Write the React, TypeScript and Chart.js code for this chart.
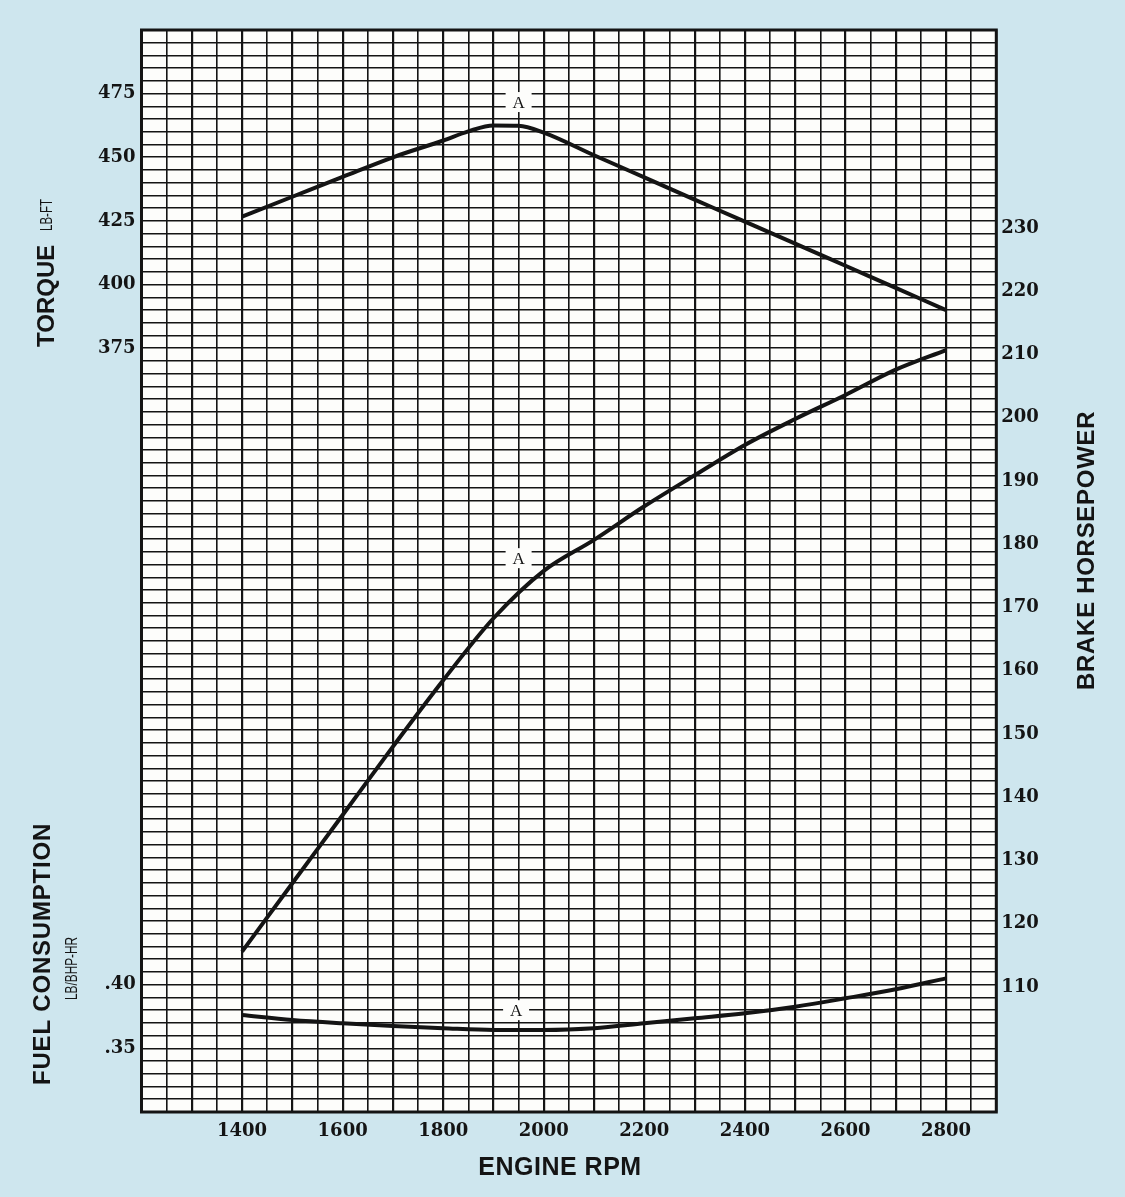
import React, { useEffect, useRef } from "react";
import { Chart, registerables } from "chart.js";

Chart.register(...registerables);

// ---------- data ----------
const rpmTickLabels = [1400, 1600, 1800, 2000, 2200, 2400, 2600, 2800];
const torqueTickLabels = [375, 400, 425, 450, 475];
const hpTickLabels = [110, 120, 130, 140, 150, 160, 170, 180, 190, 200, 210, 220, 230];
const fuelTickLabels = [0.35, 0.4];

const torqueRpm = [1400, 1500, 1600, 1700, 1800, 1850, 1900, 1950, 2000, 2100, 2200, 2300, 2400, 2500, 2600, 2700, 2800];
const torqueValues = [426.7, 434.5, 442.3, 450.0, 456.6, 460.2, 462.5, 462.4, 459.7, 450.8, 442.1, 433.4, 424.7, 416.1, 407.4, 398.7, 390.0];

const hpRpm = [1400, 1500, 1600, 1700, 1800, 1900, 2000, 2100, 2200, 2300, 2400, 2500, 2600, 2700, 2800];
const hpValues = [115.6, 126.4, 137.2, 148.0, 158.5, 168.3, 175.8, 180.7, 186.0, 190.9, 195.7, 199.8, 203.6, 207.6, 210.7];

const fuelRpm = [1400, 1500, 1600, 1700, 1800, 1900, 2000, 2100, 2200, 2300, 2400, 2500, 2600, 2700, 2800];
const fuelValues = [0.3762, 0.3723, 0.3697, 0.3676, 0.3658, 0.3644, 0.3644, 0.3658, 0.3697, 0.3736, 0.3775, 0.3827, 0.3893, 0.3964, 0.405];

const markerRpm = [1950, 1950, 1945];
const markerAxis = ["yT", "yH", "yF"];
const markerValues = [471.7, 177.8, 0.38];
const markerLabel = "A";

// axis ranges (grid paper: 85 minor rows, 34 minor columns)
const RPM_MIN = 1200, RPM_MAX = 2900, RPM_STEP = 50;
const TORQUE_MIN = 75, TORQUE_MAX = 500, TORQUE_STEP = 5;
const HP_MIN = 90.24, HP_MAX = 261.3;
const FUEL_MIN = 0.3, FUEL_MAX = 1.15;

const INK = "#141414";
const TICK_FONT = { family: "'DejaVu Serif', serif", size: 18, weight: "bold" as const };

function stepTicks(min: number, max: number, step: number) {
  const out: { value: number }[] = [];
  const n = Math.round((max - min) / step);
  for (let i = 0; i <= n; i++) out.push({ value: min + i * step });
  return out;
}

function drawRotated(ctx: CanvasRenderingContext2D, text: string, x: number, y: number, font: string, spacing: string, scaleX = 1) {
  ctx.save();
  ctx.translate(x, y);
  ctx.rotate(-Math.PI / 2);
  ctx.scale(scaleX, 1);
  ctx.font = font;
  (ctx as any).letterSpacing = spacing;
  ctx.fillStyle = INK;
  ctx.textAlign = "left";
  ctx.textBaseline = "alphabetic";
  ctx.fillText(text, 0, 0);
  ctx.restore();
}

const paperPlugin = {
  id: "paper",
  beforeDraw(chart: any) {
    const { ctx, chartArea: a } = chart;
    ctx.save();
    ctx.fillStyle = "#fdfdfb";
    ctx.fillRect(a.left, a.top, a.right - a.left, a.bottom - a.top);
    ctx.restore();
  },
  afterDraw(chart: any) {
    const { ctx, chartArea: a } = chart;
    ctx.save();
    // plot border
    ctx.strokeStyle = INK;
    ctx.lineWidth = 3;
    ctx.strokeRect(a.left, a.top, a.right - a.left, a.bottom - a.top);

    // "A" markers
    const xs = chart.scales.x;
    for (let i = 0; i < markerRpm.length; i++) {
      const px = xs.getPixelForValue(markerRpm[i]);
      const py = chart.scales[markerAxis[i]].getPixelForValue(markerValues[i]);
      ctx.fillStyle = "#fdfdfb";
      ctx.fillRect(px - 13, py - 10, 26, 20);
      ctx.fillStyle = INK;
      ctx.font = "17px 'Liberation Serif', serif";
      ctx.textAlign = "center";
      ctx.textBaseline = "middle";
      ctx.fillText(markerLabel, px, py + 1);
    }
    ctx.restore();

    // axis titles
    drawRotated(ctx, "TORQUE", 54, 347, "bold 24px 'Liberation Sans', sans-serif", "0px");
    drawRotated(ctx, "LB-FT", 52, 231, "16px 'Liberation Sans', sans-serif", "0px", 0.72);
    drawRotated(ctx, "FUEL CONSUMPTION", 50, 1085, "bold 24px 'Liberation Sans', sans-serif", "0.8px");
    drawRotated(ctx, "LB/BHP-HR", 77, 1000, "16px 'Liberation Sans', sans-serif", "0px", 0.74);
    drawRotated(ctx, "BRAKE HORSEPOWER", 1094, 690, "bold 24px 'Liberation Sans', sans-serif", "0.7px");

    ctx.save();
    ctx.font = "bold 25px 'Liberation Sans', sans-serif";
    (ctx as any).letterSpacing = "0.5px";
    ctx.fillStyle = INK;
    ctx.textAlign = "center";
    ctx.textBaseline = "alphabetic";
    ctx.fillText("ENGINE RPM", 560, 1175);
    ctx.restore();
  },
};

export default function App() {
  const ref = useRef<HTMLCanvasElement>(null);

  useEffect(() => {
    const canvas = ref.current;
    if (!canvas) return;
    const lineStyle = {
      borderColor: INK,
      borderWidth: 4,
      pointRadius: 0,
      fill: false,
      cubicInterpolationMode: "monotone" as const,
      borderCapStyle: "butt" as const,
    };
    const chart = new Chart(canvas, {
      type: "line",
      data: {
        datasets: [
          { ...lineStyle, label: "Torque", yAxisID: "yT", data: torqueRpm.map((r, i) => ({ x: r, y: torqueValues[i] })) },
          { ...lineStyle, label: "Brake horsepower", yAxisID: "yH", data: hpRpm.map((r, i) => ({ x: r, y: hpValues[i] })) },
          { ...lineStyle, label: "Fuel consumption", yAxisID: "yF", data: fuelRpm.map((r, i) => ({ x: r, y: fuelValues[i] })) },
        ],
      },
      options: {
        responsive: false,
        animation: false,
        events: [],
        layout: { padding: { top: 30, left: 0, right: 0, bottom: 0 } },
        plugins: { legend: { display: false }, tooltip: { enabled: false } },
        scales: {
          x: {
            type: "linear",
            min: RPM_MIN,
            max: RPM_MAX,
            afterBuildTicks: (s: any) => { s.ticks = stepTicks(RPM_MIN, RPM_MAX, RPM_STEP); },
            afterFit: (s: any) => { s.height = 85; },
            ticks: {
              autoSkip: false,
              maxRotation: 0,
              padding: 9,
              color: INK,
              font: TICK_FONT,
              callback: (v: any) => (rpmTickLabels.includes(Number(v)) ? String(v) : ""),
            },
            grid: {
              color: INK,
              drawTicks: false,
              lineWidth: (c: any) => (c.tick && c.tick.value % 100 === 0 ? 2.2 : 1.6),
            },
            border: { display: false },
          },
          yT: {
            type: "linear",
            position: "left",
            weight: 5,
            min: TORQUE_MIN,
            max: TORQUE_MAX,
            afterBuildTicks: (s: any) => { s.ticks = stepTicks(TORQUE_MIN, TORQUE_MAX, TORQUE_STEP); },
            afterFit: (s: any) => { s.width = 141.5; },
            ticks: {
              autoSkip: false,
              padding: 6,
              color: INK,
              font: TICK_FONT,
              callback: (v: any) => (torqueTickLabels.includes(Number(v)) ? String(v) : ""),
            },
            grid: { color: INK, drawTicks: false, lineWidth: 1.6 },
            border: { display: false },
          },
          yF: {
            type: "linear",
            position: "left",
            weight: 0,
            min: FUEL_MIN,
            max: FUEL_MAX,
            afterBuildTicks: (s: any) => { s.ticks = fuelTickLabels.map((v) => ({ value: v })); },
            afterFit: (s: any) => { s.width = 0; },
            ticks: {
              autoSkip: false,
              mirror: true,
              crossAlign: "far",
              padding: -37,
              color: INK,
              font: TICK_FONT,
              callback: (v: any) => Number(v).toFixed(2).replace(/^0/, ""),
            },
            grid: { display: false, drawTicks: false },
            border: { display: false },
          },
          yH: {
            type: "linear",
            position: "right",
            min: HP_MIN,
            max: HP_MAX,
            afterBuildTicks: (s: any) => { s.ticks = hpTickLabels.map((v) => ({ value: v })); },
            afterFit: (s: any) => { s.width = 128.7; },
            ticks: {
              autoSkip: false,
              padding: 5,
              color: INK,
              font: TICK_FONT,
              callback: (v: any) => String(v),
            },
            grid: { display: false, drawTicks: false },
            border: { display: false },
          },
        },
      },
      plugins: [paperPlugin],
    } as any);
    return () => chart.destroy();
  }, []);

  return (
    <div style={{ position: "absolute", left: 0, top: 0, width: 1125, height: 1197, background: "#cee6ee" }}>
      <canvas ref={ref} width={1125} height={1197} style={{ display: "block", width: 1125, height: 1197 }} />
    </div>
  );
}
